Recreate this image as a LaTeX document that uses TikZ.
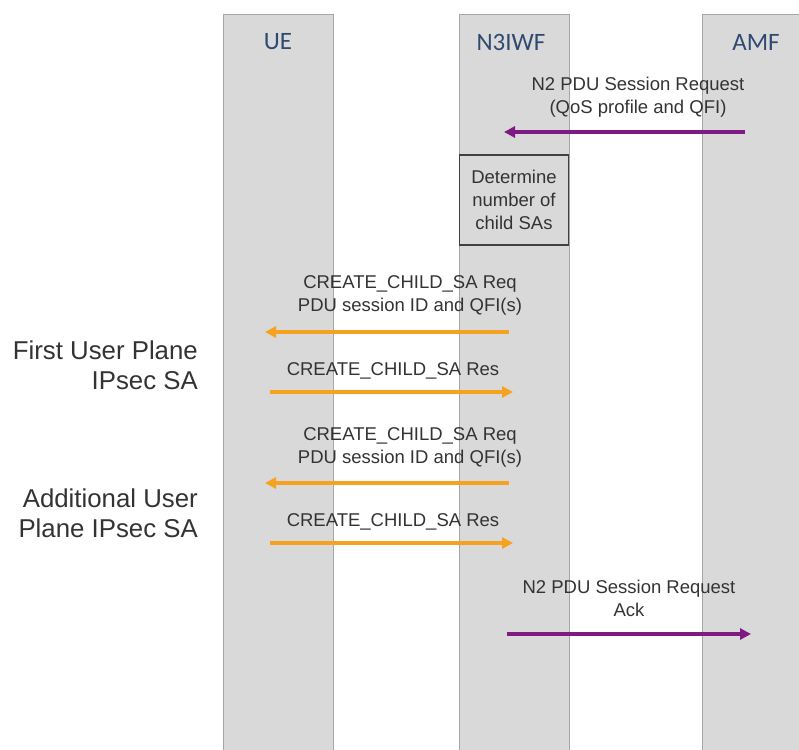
\documentclass[tikz,border=0pt]{standalone}
\usepackage{fontspec}
\setmainfont{Liberation Sans}
\newfontfamily\hdrfont{Carlito}
\usetikzlibrary{arrows.meta}
\definecolor{lanefill}{HTML}{D9D9D9}
\definecolor{laneedge}{HTML}{A6A6A6}
\definecolor{hdrblue}{HTML}{2F4A72}
\definecolor{msgtext}{HTML}{333333}
\definecolor{ngpurple}{HTML}{7E1A82}
\definecolor{ikeorange}{HTML}{F4A21F}
\tikzset{
  lane/.style={draw=laneedge, line width=0.9pt, fill=lanefill, anchor=north west,
    minimum width=110pt, minimum height=760pt, inner sep=0pt, outer sep=0pt},
  lanehdr/.style={font=\hdrfont\fontsize{25}{29}\selectfont, text=hdrblue},
  msglabel/.style={font=\fontsize{18.5}{23}\selectfont, text=msgtext, align=center, inner sep=0pt},
  sidelabel/.style={font=\fontsize{25.8}{30}\selectfont, text=msgtext, align=right, inner sep=0pt, anchor=east},
  procbox/.style={draw=black!75, line width=1.2pt, fill=lanefill, minimum width=109pt,
    minimum height=90pt, align=center, inner sep=0pt, font=\fontsize{18.5}{23}\selectfont, text=msgtext},
  ngmsg/.style={draw=ngpurple, line width=3.2pt, -{Triangle[length=11pt,width=11pt]}},
  ikemsg/.style={draw=ikeorange, line width=3.2pt, -{Triangle[length=11pt,width=11pt]}}
}
\begin{document}
\begin{tikzpicture}[x=1pt,y=-1pt]
\useasboundingbox (0,0) rectangle (799,749);
\clip (0,0) rectangle (799,749);

% lifelines
\node[lane] (ue) at (223,14) {};
\node[lane] (n3iwf) at (459,14) {};
\node[lane] (amf) at (702,14) {};

\node[lanehdr] (uehdr) at (278,42) {UE};
\node[lanehdr] (n3hdr) at (511,42) {N3IWF};
\node[lanehdr] (amfhdr) at (756,42) {AMF};

% message end points on the lifelines
\coordinate (amfA) at (745,132);
\coordinate (n3A) at (504,132);
\coordinate (n3B) at (509,332);
\coordinate (ueB) at (265,332);
\coordinate (ueC) at (270,392);
\coordinate (n3C) at (513,392);
\coordinate (n3D) at (509,483);
\coordinate (ueD) at (265,483);
\coordinate (ueE) at (270,543);
\coordinate (n3E) at (513,543);
\coordinate (n3F) at (507,634);
\coordinate (amfF) at (751,634);

% N2 request
\node[msglabel] (lblA) at (638,97) {N2 PDU Session Request\\(QoS profile and QFI)};
\draw[ngmsg] (amfA) -- (n3A);

% N3IWF decision
\node[procbox] (decide) at (514,200) {Determine\\number of\\child SAs};

% first child SA
\node[msglabel] (lblB) at (410,295) {CREATE\_CHILD\_SA Req\\PDU session ID and QFI(s)};
\draw[ikemsg] (n3B) -- (ueB);
\node[msglabel] (lblC) at (393,371) {CREATE\_CHILD\_SA Res};
\draw[ikemsg] (ueC) -- (n3C);

% additional child SA
\node[msglabel] (lblD) at (410,447) {CREATE\_CHILD\_SA Req\\PDU session ID and QFI(s)};
\draw[ikemsg] (n3D) -- (ueD);
\node[msglabel] (lblE) at (393,522) {CREATE\_CHILD\_SA Res};
\draw[ikemsg] (ueE) -- (n3E);

% N2 acknowledgement
\node[msglabel] (lblF) at (629,598) {N2 PDU Session Request\\Ack};
\draw[ngmsg] (n3F) -- (amfF);

% phase captions
\node[sidelabel] (first) at (198,365) {First User Plane\\IPsec SA};
\node[sidelabel] (addl) at (198,513) {Additional User\\Plane IPsec SA};
\end{tikzpicture}
\end{document}
